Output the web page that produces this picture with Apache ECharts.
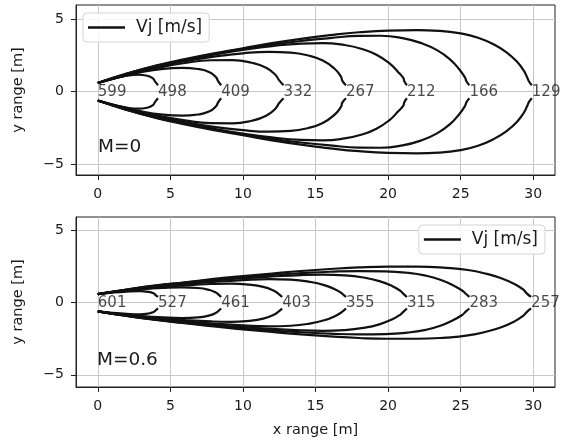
<!DOCTYPE html>
<html><head><meta charset="utf-8">
<script src="https://cdn.jsdelivr.net/npm/echarts@6/dist/echarts.min.js"></script>
<style>html,body{margin:0;padding:0;background:#fff}#c{width:562px;height:445px}</style>
</head><body><div id="c"></div>
<script>
const xTicks = [0, 5, 10, 15, 20, 25, 30];
const yTicks = [-5, 0, 5];
const valuesM0 = [599, 498, 409, 332, 267, 212, 166, 129];
const valuesM06 = [601, 527, 461, 403, 355, 315, 283, 257];
const labelXM0 = [0, 4.15, 8.5, 12.8, 17.1, 21.3, 25.6, 29.9];
const labelXM06 = [0, 4.15, 8.5, 12.7, 17.1, 21.3, 25.6, 29.85];

// upper half of each contour (x [m], y [m]); lower half is its mirror
const contoursM0 = [
  [[0,0.6],[1,0.9],[2,1.1],[2.8,1.17],[3.4,1.1],[3.8,0.92],[3.95,0.7],[4.15,0.45]],
  [[0,0.6],[1.5,1.0],[3,1.35],[4.5,1.58],[5.8,1.65],[6.9,1.57],[7.7,1.35],[8.15,1.0],[8.28,0.75],[8.5,0.45]],
  [[0,0.6],[2,1.15],[4,1.62],[6,1.98],[7.8,2.17],[9.3,2.18],[10.6,2.0],[11.6,1.65],[12.25,1.15],[12.5,0.78],[12.8,0.45]],
  [[0,0.6],[2,1.2],[4,1.7],[6,2.1],[8,2.42],[10,2.65],[11.8,2.75],[13.3,2.7],[14.5,2.5],[15.5,2.15],[16.3,1.6],[16.75,1.05],[16.85,0.75],[17.1,0.45]],
  [[0,0.6],[2,1.2],[4,1.75],[6,2.18],[8,2.55],[10,2.88],[12,3.15],[14,3.32],[15.5,3.35],[17,3.22],[18.2,2.95],[19.2,2.55],[20.1,1.95],[20.7,1.35],[21.05,0.95],[21.12,0.72],[21.3,0.45]],
  [[0,0.6],[2,1.25],[4,1.78],[6,2.2],[8,2.6],[10,2.95],[12,3.25],[14,3.5],[16,3.7],[18,3.85],[19.5,3.86],[21,3.7],[22.3,3.35],[23.4,2.85],[24.3,2.2],[24.9,1.55],[25.3,0.98],[25.4,0.72],[25.6,0.45]],
  [[0,0.6],[2,1.25],[4,1.8],[6,2.25],[8,2.65],[10,3.0],[12,3.35],[14,3.65],[16,3.9],[18,4.1],[20,4.22],[22,4.25],[23.5,4.2],[25,4.02],[26.2,3.72],[27.3,3.25],[28.2,2.68],[28.9,2.05],[29.35,1.45],[29.6,0.95],[29.7,0.72],[29.9,0.45]]
];
const contoursM06 = [
  [[0,0.6],[1,0.7],[2,0.77],[2.9,0.8],[3.5,0.75],[3.85,0.65],[3.95,0.56],[4.15,0.4]],
  [[0,0.6],[1.5,0.8],[3,0.93],[4.5,1.02],[5.8,1.06],[6.9,1.02],[7.7,0.88],[8.15,0.7],[8.3,0.58],[8.5,0.4]],
  [[0,0.6],[2,0.85],[4,1.05],[6,1.2],[7.8,1.3],[9.2,1.33],[10.4,1.26],[11.4,1.1],[12.1,0.85],[12.45,0.62],[12.7,0.4]],
  [[0,0.6],[2,0.88],[4,1.12],[6,1.3],[8,1.45],[10,1.57],[11.8,1.64],[13.3,1.6],[14.6,1.45],[15.6,1.22],[16.4,0.9],[16.85,0.62],[17.1,0.4]],
  [[0,0.6],[2,0.9],[4,1.15],[6,1.35],[8,1.55],[10,1.7],[12,1.82],[14,1.92],[15.5,1.95],[17,1.9],[18.3,1.75],[19.4,1.5],[20.3,1.15],[20.85,0.82],[21.08,0.6],[21.3,0.4]],
  [[0,0.6],[2,0.92],[4,1.18],[6,1.4],[8,1.6],[10,1.78],[12,1.93],[14,2.05],[16,2.15],[18,2.2],[19.8,2.18],[21.3,2.08],[22.6,1.88],[23.6,1.6],[24.5,1.2],[25.1,0.85],[25.35,0.62],[25.6,0.4]],
  [[0,0.6],[2,0.92],[4,1.2],[6,1.42],[8,1.65],[10,1.85],[12,2.03],[14,2.2],[16,2.34],[18,2.45],[20,2.5],[22,2.5],[24,2.42],[25.5,2.27],[26.8,2.0],[27.8,1.7],[28.7,1.3],[29.3,0.92],[29.55,0.65],[29.85,0.4]]
];

const FONT = 'DejaVu Sans';
const TXT = '#1a1a1a';
const NAME = 'Vj [m/s]';

function contourSeries(contours, idx) {
  const out = [];
  contours.forEach(up => {
    const lo = up.map(p => [p[0], -p[1]]);
    [up, lo].forEach(d => out.push({
      type: 'line', name: NAME, xAxisIndex: idx, yAxisIndex: idx,
      data: d, smooth: 0.5, symbol: 'none', showSymbol: false,
      lineStyle: { color: '#111', width: 2.2 }, itemStyle: { color: '#111' },
      silent: true, animation: false, z: 3
    }));
  });
  return out;
}
function labelSeries(xs, vals, idx) {
  return {
    type: 'scatter', name: 'labels', xAxisIndex: idx, yAxisIndex: idx,
    data: xs.map((x, i) => [x, 0, vals[i]]),
    symbolSize: 0.1, itemStyle: { color: 'rgba(0,0,0,0)' }, silent: true, animation: false, z: 4,
    label: { show: true, position: 'right', distance: 0, formatter: p => String(p.value[2]),
             fontFamily: FONT, fontSize: 15, color: TXT }
  };
}
function xAx(idx, withName) {
  const a = {
    type: 'value', gridIndex: idx, min: -1.5, max: 31.5,
    axisLine: { show: true, onZero: false, lineStyle: { color: '#222', width: 1 } },
    axisTick: { show: true, customValues: xTicks, length: 5, lineStyle: { color: '#222' } },
    axisLabel: { customValues: xTicks, margin: 12, fontFamily: FONT, fontSize: 14, color: TXT },
    splitLine: { show: true, lineStyle: { color: '#c8c8c8', width: 1 } }
  };
  if (withName) Object.assign(a, { name: 'x range [m]', nameLocation: 'middle', nameGap: 36,
    nameTextStyle: { fontFamily: FONT, fontSize: 14.5, color: TXT } });
  return a;
}
function yAx(idx, mn, mx) {
  return {
    type: 'value', gridIndex: idx, min: mn, max: mx,
    name: 'y range [m]', nameLocation: 'middle', nameGap: 50,
    nameTextStyle: { fontFamily: FONT, fontSize: 14.5, color: TXT },
    axisLine: { show: true, onZero: false, lineStyle: { color: '#222', width: 1 } },
    axisTick: { show: true, customValues: yTicks, length: 5, lineStyle: { color: '#222' } },
    axisLabel: { customValues: yTicks, margin: 12, fontFamily: FONT, fontSize: 14, color: TXT,
                 formatter: v => String(v).replace('-', '\u2212') },
    splitLine: { show: true, lineStyle: { color: '#c8c8c8', width: 1 } }
  };
}
const legendBase = {
  data: [NAME], icon: 'rect', itemWidth: 37, itemHeight: 2.5, selectedMode: false,
  backgroundColor: 'rgba(255,255,255,0.85)', borderColor: '#d4d4d4', borderWidth: 1, borderRadius: 4,
  padding: [6, 7, 6, 5],
  textStyle: { fontFamily: FONT, fontSize: 17, color: TXT, padding: [0, 0, 0, 6] }
};
const option = {
  backgroundColor: '#fff',
  animation: false,
  grid: [
    { left: 76, top: 5, width: 479, height: 170, show: true, borderColor: '#222', borderWidth: 1, backgroundColor: 'transparent' },
    { left: 76, top: 217, width: 479, height: 170, show: true, borderColor: '#222', borderWidth: 1, backgroundColor: 'transparent' }
  ],
  xAxis: [xAx(0, false), xAx(1, true)],
  yAxis: [yAx(0, -5.74, 5.98), yAx(1, -5.85, 5.95)],
  legend: [
    Object.assign({}, legendBase, { left: 83, top: 13 }),
    Object.assign({}, legendBase, { right: 17, top: 225 })
  ],
  title: [
    { text: 'M=0', left: 98, top: 138, padding: 0, textStyle: { fontFamily: FONT, fontSize: 18.5, fontWeight: 'normal', color: TXT } },
    { text: 'M=0.6', left: 97, top: 351, padding: 0, textStyle: { fontFamily: FONT, fontSize: 18.5, fontWeight: 'normal', color: TXT } }
  ],
  series: [].concat(
    contourSeries(contoursM0, 0), [labelSeries(labelXM0, valuesM0, 0)],
    contourSeries(contoursM06, 1), [labelSeries(labelXM06, valuesM06, 1)]
  )
};
const chart = echarts.init(document.getElementById('c'), null, { renderer: 'canvas' });
chart.setOption(option);
</script>
</body></html>
